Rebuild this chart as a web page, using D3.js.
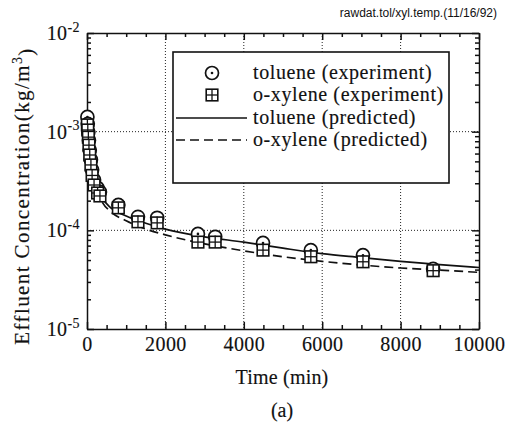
<!DOCTYPE html>
<html>
<head>
<meta charset="utf-8">
<script src="https://cdn.jsdelivr.net/npm/d3@7"></script>
<style>
  body { margin: 0; background: #fff; }
  svg { display: block; }
  .serif { font-family: "Liberation Serif", "Times New Roman", serif; fill: #111; stroke: #111; stroke-width: 0.15; }
  .ejes text { font-family: "Liberation Serif", "Times New Roman", serif; font-size: 20px; fill: #111; stroke: #111; stroke-width: 0.15; letter-spacing: 0.4px; }
  .ejes path, .ejes line { stroke: #111; stroke-width: 1.5; }
</style>
</head>
<body>
<div id="graf"></div>
<script>
// Datos
tiempos = [10, 20, 35, 50, 70, 100, 130, 180, 270, 330, 800, 1300, 1790, 2830, 3270, 4490, 5710, 7040, 8830]
toluenoExp = [1.41e-3, 1.2e-3, 9.9e-4, 8.2e-4, 6.5e-4, 5.2e-4, 4.1e-4, 3.24e-4, 2.69e-4, 2.45e-4, 1.81e-4, 1.37e-4, 1.34e-4, 9.2e-5, 8.6e-5, 7.45e-5, 6.3e-5, 5.6e-5, 4.06e-5]
xilenoExp = [1.17e-3, 1.04e-3, 8.8e-4, 7.3e-4, 5.8e-4, 4.6e-4, 3.6e-4, 2.88e-4, 2.39e-4, 2.23e-4, 1.69e-4, 1.22e-4, 1.19e-4, 7.6e-5, 7.6e-5, 6.3e-5, 5.4e-5, 4.8e-5, 3.9e-5]

tiemposPred = [0, 25, 50, 100, 200, 400, 600, 1000, 1500, 2000, 3000, 4000, 5000, 6000, 7000, 8000, 9000, 10000]
toluenoPred = [1.6e-3, 1.0e-3, 7.5e-4, 5.0e-4, 3.2e-4, 2.1e-4, 1.7e-4, 1.4e-4, 1.18e-4, 1.03e-4, 8.6e-5, 7.6e-5, 6.6e-5, 5.8e-5, 5.3e-5, 4.85e-5, 4.5e-5, 4.2e-5]
xilenoPred = [1.3e-3, 8.5e-4, 6.5e-4, 4.4e-4, 2.9e-4, 1.9e-4, 1.55e-4, 1.25e-4, 1.03e-4, 9.0e-5, 7.3e-5, 6.2e-5, 5.4e-5, 4.85e-5, 4.45e-5, 4.15e-5, 3.95e-5, 3.75e-5]

xTicks = [0, 2000, 4000, 6000, 8000, 10000]
yTicks = [1e-5, 1e-4, 1e-3, 1e-2]
leyenda = ['toluene (experiment)', 'o-xylene (experiment)', 'toluene (predicted)', 'o-xylene (predicted)']

ancho_total = 506
alto_total = 427
margins = { top: 33, left: 87, right: 27, bottom: 98 }
ancho = ancho_total - margins.left - margins.right
alto = alto_total - margins.top - margins.bottom

svg = d3.select('#graf').append('svg')
  .attr('width', ancho_total)
  .attr('height', alto_total)

g = svg.append('g')
  .attr('transform', `translate(${margins.left}, ${margins.top})`)

x = d3.scaleLinear().domain([0, 10000]).range([0, ancho])
y = d3.scaleLog().domain([1e-5, 1e-2]).range([alto, 0])

// ticks menores
xMenores = d3.range(0, 10001, 500).filter(d => d % 2000 != 0)
yMenores = []
yTicks.slice(0, -1).forEach(d => { for (let k = 2; k < 10; k++) yMenores.push(d * k) })

// cuadricula punteada
g.append('g').selectAll('line')
  .data(xTicks.slice(1, -1)).join('line')
  .attr('x1', d => x(d)).attr('x2', d => x(d))
  .attr('y1', 0).attr('y2', alto)
  .attr('stroke', '#222').attr('stroke-width', 1).attr('stroke-dasharray', '1,2')
g.append('g').selectAll('line')
  .data(yTicks.slice(1, -1)).join('line')
  .attr('y1', d => y(d)).attr('y2', d => y(d))
  .attr('x1', 0).attr('x2', ancho)
  .attr('stroke', '#222').attr('stroke-width', 1).attr('stroke-dasharray', '1,2')

// Ejes
xAxis = g.append('g').attr('class', 'ejes')
  .attr('transform', `translate(0, ${alto})`)
  .call(d3.axisBottom(x).tickValues(xTicks).tickSizeInner(-7).tickSizeOuter(0).tickPadding(8).tickFormat(d3.format('d')))
g.append('g').attr('class', 'ejes')
  .attr('transform', `translate(0, ${alto})`)
  .call(d3.axisBottom(x).tickValues(xMenores).tickSize(-4).tickFormat(''))
  .select('.domain').remove()
g.append('g').attr('class', 'ejes')
  .call(d3.axisTop(x).tickValues(xTicks).tickSizeInner(-7).tickSizeOuter(0).tickFormat(''))
g.append('g').attr('class', 'ejes')
  .call(d3.axisTop(x).tickValues(xMenores).tickSize(-4).tickFormat(''))
  .select('.domain').remove()

yAxis = g.append('g').attr('class', 'ejes')
  .call(d3.axisLeft(y).tickValues(yTicks).tickSizeInner(-7).tickSizeOuter(0).tickFormat(''))
g.append('g').attr('class', 'ejes')
  .call(d3.axisLeft(y).tickValues(yMenores).tickSize(-4).tickFormat(''))
  .select('.domain').remove()
g.append('g').attr('class', 'ejes')
  .attr('transform', `translate(${ancho}, 0)`)
  .call(d3.axisRight(y).tickValues(yTicks).tickSizeInner(-7).tickSizeOuter(0).tickFormat(''))
g.append('g').attr('class', 'ejes')
  .attr('transform', `translate(${ancho}, 0)`)
  .call(d3.axisRight(y).tickValues(yMenores).tickSize(-4).tickFormat(''))
  .select('.domain').remove()

// etiquetas 10^n
yAxis.selectAll('.tick').each(function(d) {
  let t = d3.select(this).select('text')
    .attr('x', -7).attr('dy', '0.32em').attr('text-anchor', 'end')
  t.append('tspan').text('10')
  t.append('tspan').attr('dy', '-0.6em').style('font-size', '14px')
    .text(String(Math.round(Math.log10(d))))
})

// lineas predichas
lineaGen = d3.line()
  .x(d => x(d[0]))
  .y(d => y(d[1]))
  .curve(d3.curveMonotoneX)

g.append('path')
  .attr('d', lineaGen(tiemposPred.map((t, i) => [t, toluenoPred[i]])))
  .attr('fill', 'none').attr('stroke', '#111').attr('stroke-width', 1.7)
g.append('path')
  .attr('d', lineaGen(tiemposPred.map((t, i) => [t, xilenoPred[i]])))
  .attr('fill', 'none').attr('stroke', '#111').attr('stroke-width', 1.7)
  .attr('stroke-dasharray', '9,5')

// simbolos
function cuadro(sel, cx, cy) {
  let s = 5.8
  sel.append('rect').attr('x', cx - s).attr('y', cy - s).attr('width', 2 * s).attr('height', 2 * s)
    .attr('fill', '#fff').attr('stroke', '#111').attr('stroke-width', 1.6)
  sel.append('line').attr('x1', cx - s).attr('x2', cx + s).attr('y1', cy).attr('y2', cy)
    .attr('stroke', '#111').attr('stroke-width', 1.3)
  sel.append('line').attr('x1', cx).attr('x2', cx).attr('y1', cy - s).attr('y2', cy + s)
    .attr('stroke', '#111').attr('stroke-width', 1.3)
}
function circulo(sel, cx, cy) {
  sel.append('circle').attr('cx', cx).attr('cy', cy).attr('r', 6.5)
    .attr('fill', '#fff').attr('stroke', '#111').attr('stroke-width', 1.7)
  sel.append('circle').attr('cx', cx).attr('cy', cy).attr('r', 1.3).attr('fill', '#111')
}

puntos = g.append('g')
tiempos.forEach((t, i) => circulo(puntos, x(t), y(toluenoExp[i])))
tiempos.forEach((t, i) => cuadro(puntos, x(t), y(xilenoExp[i])))

// leyenda
ley = svg.append('g').attr('transform', 'translate(173, 52)')
ley.append('rect').attr('width', 276).attr('height', 131)
  .attr('fill', '#fff').attr('stroke', '#111').attr('stroke-width', 1.6)
filas = [21, 43, 66, 88]
circulo(ley, 39, filas[0])
cuadro(ley, 39, filas[1])
ley.append('line').attr('x1', 3).attr('x2', 74).attr('y1', filas[2]).attr('y2', filas[2])
  .attr('stroke', '#111').attr('stroke-width', 1.7)
ley.append('line').attr('x1', 3).attr('x2', 74).attr('y1', filas[3]).attr('y2', filas[3])
  .attr('stroke', '#111').attr('stroke-width', 1.7).attr('stroke-dasharray', '9,5')
ley.selectAll('text.ley').data(leyenda).join('text')
  .attr('class', 'serif')
  .attr('x', 80).attr('y', (d, i) => filas[i])
  .attr('dy', '0.32em')
  .style('font-size', '20px').style('letter-spacing', '0.6px')
  .text(d => d)

// titulos
svg.append('text')
  .attr('x', 497).attr('y', 17).attr('text-anchor', 'end')
  .style('font-family', '"Liberation Sans", Arial, sans-serif').style('font-size', '12px')
  .attr('fill', '#111')
  .text('rawdat.tol/xyl.temp.(11/16/92)')

svg.append('text').attr('class', 'serif')
  .attr('x', margins.left + ancho / 2 - 1).attr('y', 384).attr('text-anchor', 'middle')
  .style('font-size', '20px').style('letter-spacing', '0.2px')
  .text('Time (min)')

svg.append('text').attr('class', 'serif')
  .attr('x', margins.left + ancho / 2 - 1).attr('y', 417).attr('text-anchor', 'middle')
  .style('font-size', '20px')
  .text('(a)')

yLabel = svg.append('text').attr('class', 'serif')
  .attr('transform', 'translate(29, 196) rotate(-90)').attr('text-anchor', 'middle')
  .style('font-size', '21px').style('letter-spacing', '1.4px')
yLabel.append('tspan').text('Effluent Concentration(kg/m')
yLabel.append('tspan').attr('dy', '-0.5em').style('font-size', '14px').text('3')
yLabel.append('tspan').attr('dy', '0.5em').text(')')
</script>
</body>
</html>
